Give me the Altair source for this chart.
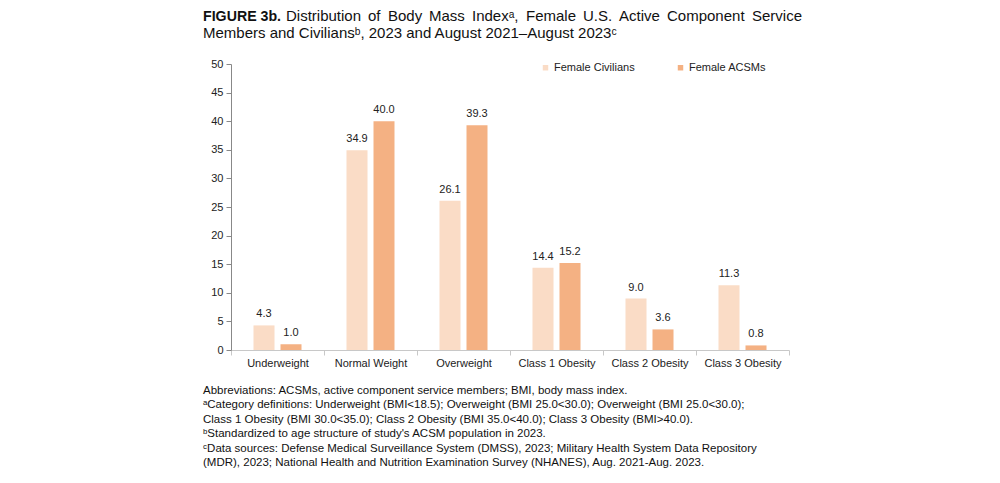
import altair as alt
import pandas as pd

categories = ["Underweight", "Normal Weight", "Overweight",
              "Class 1 Obesity", "Class 2 Obesity", "Class 3 Obesity"]
civilians = [4.3, 34.9, 26.1, 14.4, 9.0, 11.3]
acsms = [1.0, 40.0, 39.3, 15.2, 3.6, 0.8]
series = ["Female Civilians", "Female ACSMs"]
y_ticks = [0, 5, 10, 15, 20, 25, 30, 35, 40, 45, 50]

title_lead = "FIGURE 3b."
title_words = ["Distribution", "of", "Body", "Mass", "Indexᵃ,",
               "Female", "U.S.", "Active", "Component", "Service"]
title_word_x = [55, 137, 157, 198, 241, 295, 352, 388, 436, 571]
title_2 = "Members and Civiliansᵇ, 2023 and August 2021–August 2023ᶜ"
footnotes = [
    "Abbreviations: ACSMs, active component service members; BMI, body mass index.",
    "ᵃCategory definitions: Underweight (BMI<18.5); Overweight (BMI 25.0<30.0); Overweight (BMI 25.0<30.0);",
    "Class 1 Obesity (BMI 30.0<35.0); Class 2 Obesity (BMI 35.0<40.0); Class 3 Obesity (BMI>40.0).",
    "ᵇStandardized to age structure of study's ACSM population in 2023.",
    "ᶜData sources: Defense Medical Surveillance System (DMSS), 2023; Military Health System Data Repository",
    "(MDR), 2023; National Health and Nutrition Examination Survey (NHANES), Aug. 2021-Aug. 2023.",
]

rows = []
for c, v1, v2 in zip(categories, civilians, acsms):
    rows.append({"category": c, "series": series[0], "value": v1})
    rows.append({"category": c, "series": series[1], "value": v2})
df = pd.DataFrame(rows)

FONT = "Liberation Sans, Arial, Helvetica, sans-serif"
PEACH = "#f4b183"
LIGHT = "#fadcc6"

x = alt.X("category:N", sort=categories,
          scale=alt.Scale(paddingInner=0, paddingOuter=0),
          axis=alt.Axis(title=None, labelAngle=0, tickBand="extent", tickSize=5,
                        labelPadding=2, domainColor="#c8c8c8", tickColor="#c8c8c8"))
xo = alt.XOffset("series:N", sort=series,
                 scale=alt.Scale(paddingInner=0.222, paddingOuter=0.833))
y = alt.Y("value:Q", scale=alt.Scale(domain=[0, 50], nice=False),
          axis=alt.Axis(title=None, values=y_ticks, grid=False, tickSize=5,
                        labelPadding=3, domainColor="#888888", tickColor="#888888"))

bars = alt.Chart(df).mark_bar().encode(
    x=x, xOffset=xo, y=y,
    color=alt.Color("series:N", sort=series,
                    scale=alt.Scale(domain=series, range=[LIGHT, PEACH]),
                    legend=alt.Legend(title=None, orient="none", direction="horizontal",
                                      legendX=309, legendY=-2, symbolType="square",
                                      symbolSize=30, symbolStrokeWidth=0,
                                      labelFont=FONT, labelFontSize=11, labelColor="#222",
                                      labelOffset=3, columnPadding=40, padding=0)),
)

labels = alt.Chart(df).mark_text(dy=-11, fontSize=11, font=FONT, color="#222").encode(
    x=x, xOffset=xo, y=y, text=alt.Text("value:Q", format=".1f"))


def txt(s, px, py, size=11.5, align="left", weight="normal", color="#111"):
    return alt.Chart(pd.DataFrame({"t": [s]})).mark_text(
        align=align, baseline="alphabetic", fontSize=size, fontWeight=weight,
        font=FONT, color=color).encode(x=alt.value(px), y=alt.value(py), text="t:N")


texts = [txt(title_lead, -28, -43, size=14.2, weight="bold")]
for i, (w, wx) in enumerate(zip(title_words, title_word_x)):
    texts.append(txt(w, wx, -43, size=15,
                     align="right" if i == len(title_words) - 1 else "left"))
texts.append(txt(title_2, -28, -26, size=15))
for i, line in enumerate(footnotes):
    texts.append(txt(line, -28, 330 + i * 14.4, size=11.5))

chart = alt.layer(bars, labels, *texts).properties(
    width=558, height=286,
    autosize=alt.AutoSizeParams(type="none"),
    padding={"left": 223, "top": 56, "right": 203, "bottom": 125},
    background="white",
).configure_view(stroke=None).configure_axis(
    labelFont=FONT, labelFontSize=11, labelColor="#222")

chart.save("out.html", embed_options={"renderer": "svg", "actions": False})
